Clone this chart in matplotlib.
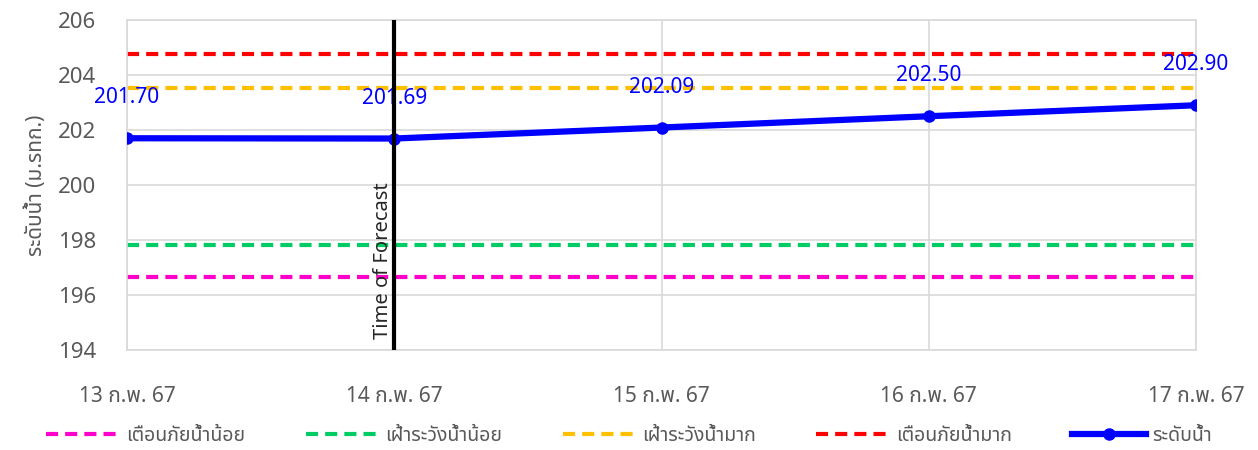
import matplotlib
matplotlib.use("Agg")
import matplotlib.pyplot as plt
from matplotlib import font_manager

# pick a font that has Thai glyphs if one exists
names = {f.name for f in font_manager.fontManager.ttflist}
thai = [n for n in ["Noto Sans Thai", "Noto Sans Thai UI", "Noto Sans Thai Looped", "Loma",
                    "Garuda", "Norasi", "Kinnari", "Sarabun", "TH Sarabun New", "Tahoma"] if n in names]
plt.rcParams['font.family'] = thai + ['DejaVu Sans']

dates = ["13 ก.พ. 67", "14 ก.พ. 67", "15 ก.พ. 67", "16 ก.พ. 67", "17 ก.พ. 67"]
level = [201.70, 201.69, 202.09, 202.50, 202.90]
warn_low = 196.67
watch_low = 197.81
watch_high = 203.52
warn_high = 204.78
forecast_idx = 1

fig = plt.figure(figsize=(12.58, 4.5), dpi=100)
ax = fig.add_axes([127 / 1258, 1 - 350 / 450, (1196 - 127) / 1258, 330 / 450])
x = list(range(len(dates)))

dash = (0, (2.9, 1.7))
kw = dict(lw=3, ls=dash)
ax.plot(x, [warn_low] * len(x), color="#ff00cc", label="เตือนภัยน้ำน้อย", **kw)
ax.plot(x, [watch_low] * len(x), color="#00cc66", label="เฝ้าระวังน้ำน้อย", **kw)
ax.plot(x, [watch_high] * len(x), color="#ffc000", label="เฝ้าระวังน้ำมาก", **kw)
ax.plot(x, [warn_high] * len(x), color="#ff0000", label="เตือนภัยน้ำมาก", **kw)
ax.plot(x, level, color="#0000ff", lw=4.5, marker="o", ms=8, label="ระดับน้ำ", zorder=5)

for xi, v in zip(x, level):
    ax.annotate(f"{v:.2f}", (xi, v), xytext=(0, 29), textcoords="offset points",
                ha="center", va="center", color="#0000ff", fontsize=15)

ax.axvline(forecast_idx, color="black", lw=3, zorder=6)
ax.text(forecast_idx - 0.006, 194.4, "Time of Forecast", rotation=90, ha="right", va="bottom",
        fontsize=14.5, color="#262626")

ax.set_xlim(0, len(x) - 1)
ax.set_ylim(194, 206)
ax.set_yticks(range(194, 207, 2))
ax.set_xticks(x)
ax.set_xticklabels(dates)
ax.tick_params(axis="both", length=0, labelcolor="#595959", labelsize=16)
ax.tick_params(axis="x", pad=26, labelsize=15)
ax.tick_params(axis="y", pad=22)
ax.grid(True, color="#d9d9d9", lw=1.2)
ax.set_axisbelow(True)
for s in ax.spines.values():
    s.set_color("#d9d9d9")
    s.set_linewidth(1.2)
ax.set_ylabel("ระดับน้ำ (ม.รทก.)", fontsize=15, fontweight="bold", color="#595959", labelpad=8)

fig.legend(loc="lower center", bbox_to_anchor=(0.5, -0.03), ncol=5, frameon=False,
           fontsize=14, handlelength=3.8, handletextpad=0.3, columnspacing=3.1,
           labelcolor="#595959")

fig.savefig("out.png", dpi=100)
